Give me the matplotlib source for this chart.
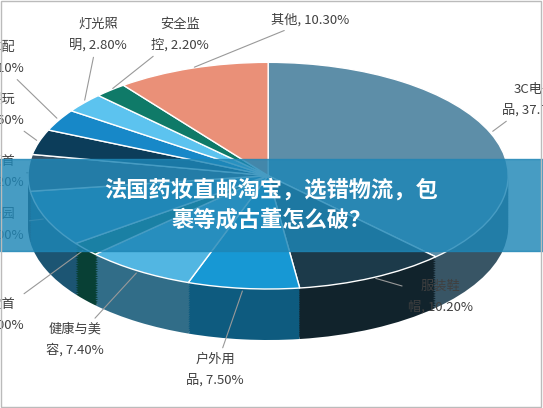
import numpy as np
import matplotlib.pyplot as plt
import matplotlib.colors as mcolors

plt.rcParams['font.family'] = ['Noto Sans CJK SC', 'DejaVu Sans']

categories = ['3C电子\n品', '服装鞋\n帽', '户外用\n品', '健康与美\n容', '珠宝首\n饰', '家居园\n艺',
              '手表首\n饰', '母婴玩\n具', '汽车配\n件', '灯光照\n明', '安全监\n控', '其他']
values = [37.7, 10.2, 7.5, 7.4, 2.0, 8.0, 5.2, 3.6, 3.1, 2.8, 2.2, 10.3]
colors = ['#5d8ea8', '#1c3a4a', '#1798d4', '#52b6e2', '#0d6a58', '#2e8ec0',
          '#3c5466', '#0c3d5a', '#1788c8', '#5cc3ef', '#0f7a68', '#ea9078']

# label text centres in figure pixels (from top-left) -- layout only
label_px = [(535, 100), (440, 297), (215, 370), (75, 340), (-5, 315), (-5, 225),
            (-5, 172), (-5, 110), (-5, 58), (98, 35), (180, 35), (310, 20)]

W, H = 543, 408
fig = plt.figure(figsize=(W / 100, H / 100), dpi=100)
ax = fig.add_axes([0, 0, 1, 1])

# side of the cylinder: stacked darker copies
dark = [tuple(np.array(mcolors.to_rgb(c)) * 0.6) for c in colors]
for off in np.linspace(-0.45, -0.02, 22):
    ax.pie(values, colors=dark, startangle=90, counterclock=False, center=(0, off),
           radius=1.0, wedgeprops=dict(linewidth=0))

wedges, _ = ax.pie(values, colors=colors, startangle=90, counterclock=False, center=(0, 0),
                   radius=1.0, wedgeprops=dict(linewidth=1, edgecolor='white'))

ax.set_aspect('auto')
ax.set_xlim(-1.117, 1.145)
ax.set_ylim(-2.05, 1.55)
ax.axis('off')

for w, c, v, (px, py) in zip(wedges, categories, values, label_px):
    mid = np.deg2rad((w.theta1 + w.theta2) / 2)
    ax.annotate(f'{c}, {v:.2f}%', xy=(np.cos(mid), np.sin(mid)),
                xytext=(px / W, 1 - py / H), textcoords='figure fraction',
                ha='center', va='center', fontsize=9.5, color='#404040', linespacing=1.7,
                arrowprops=dict(arrowstyle='-', color='#999999', lw=0.8))

# banner overlay
fig.patches.append(plt.Rectangle((0, 0.385), 1, 0.225, transform=fig.transFigure,
                                 color='#1e86b6', alpha=0.82, zorder=5))
fig.text(0.5, 0.497, '法国药妆直邮淘宝，选错物流，包\n裹等成古董怎么破？', ha='center', va='center',
         color='white', fontsize=16, fontweight='bold', linespacing=1.4, zorder=6)
fig.patches.append(plt.Rectangle((0.002, 0.003), 0.995, 0.994, transform=fig.transFigure,
                                 fill=False, edgecolor='#bbbbbb', lw=1, zorder=7))

fig.savefig('out.png', dpi=100)
